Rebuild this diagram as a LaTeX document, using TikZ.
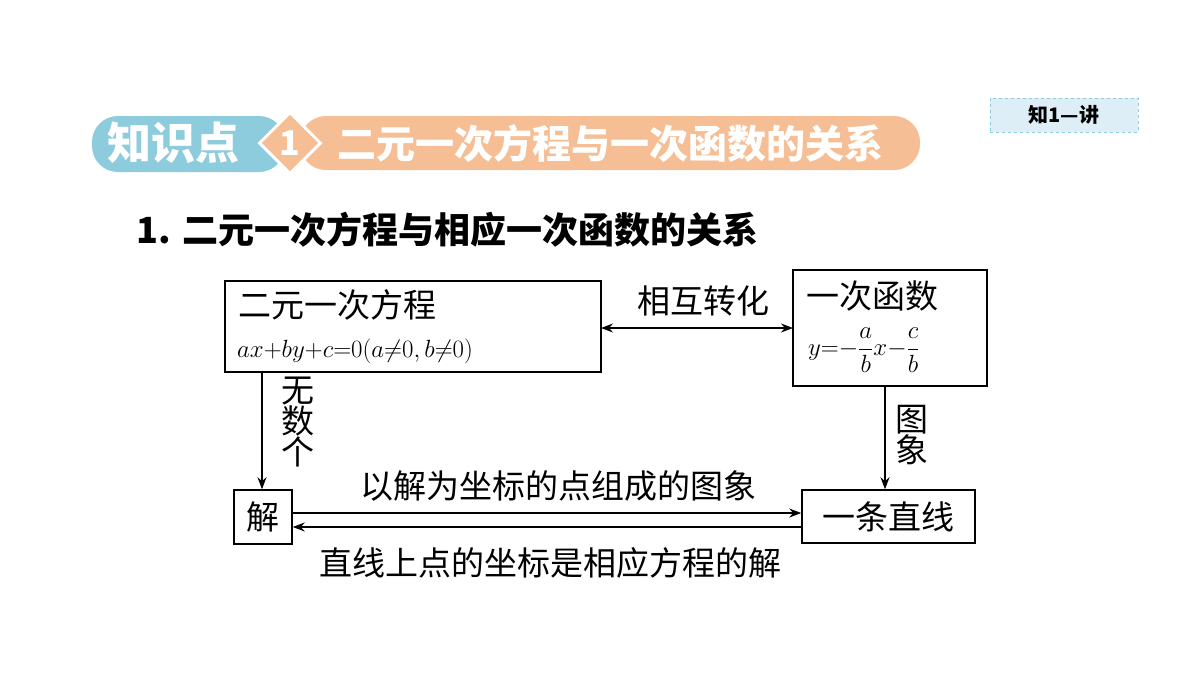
\documentclass[tikz,border=0pt]{standalone}
\usepackage{fontspec}
\newfontfamily\cjk{Noto Sans CJK SC}
\newcommand\cjkb{\cjk\bfseries}
\usetikzlibrary{arrows.meta,shapes.geometric}
\definecolor{hblue}{HTML}{8DCCDC}
\definecolor{horange}{HTML}{F6BE95}
\definecolor{tagfill}{HTML}{DDEEF6}
\tikzset{
  box/.style={draw,line width=1.5pt},
  arr/.style={-{Stealth[length=12pt,width=9pt]},line width=1.4pt},
  lbl/.style={font=\cjk\fontsize{33}{36}\selectfont,inner sep=0pt},
}
\begin{document}
\begin{tikzpicture}[x=1pt,y=-1pt]
\useasboundingbox (0,0) rectangle (1200,675);
% header
\fill[horange,rounded corners=26pt] (300,116) rectangle (920,170);
\fill[hblue,rounded corners=26pt] (92,116) rectangle (285,172);
\node[diamond,fill=horange,draw=white,line width=3pt,minimum width=62pt,minimum height=62pt,inner sep=0pt] (dia) at (290,143) {};
\node[font=\cjkb\fontsize{34}{36}\selectfont,white] (k1) at (290,143) {1};
\node[font=\cjkb\fontsize{44}{46}\selectfont,white,anchor=west] (kz) at (104,143) {知识点};
\node[font=\cjkb\fontsize{39}{42}\selectfont,white,anchor=west] (kt) at (334,144) {二元一次方程与一次函数的关系};
\node[draw=hblue,dashed,fill=tagfill,minimum width=148pt,minimum height=34pt,font=\cjkb\fontsize{20}{22}\selectfont] (tag) at (1064,115) {知1—讲};
% title
\node[anchor=west,font=\cjkb\fontsize{36}{40}\selectfont] (title) at (133,230) {1. 二元一次方程与相应一次函数的关系};
% boxes
\draw[box] (225,281) rectangle (601,372);
\coordinate (eqE) at (601,328); \coordinate (eqS) at (262,372);
\node[lbl,anchor=west] (eq1) at (238,305) {二元一次方程};
\node[anchor=west,inner sep=0pt,font=\fontsize{33}{36}\selectfont] (eq2) at (237,351) {$ax{+}by{+}c{=}0(a{\neq}0,b{\neq}0)$};
\draw[box] (793,270) rectangle (987,386);
\coordinate (fW) at (793,328); \coordinate (fS) at (885,386);
\node[lbl,anchor=west] (f1) at (806,296) {一次函数};
\node[anchor=west,inner sep=0pt,font=\fontsize{31}{34}\selectfont] (f2) at (808,350) {$\displaystyle y{=}{-}\frac{a}{b}x{-}\frac{c}{b}$};
\node[box,lbl,minimum width=58pt,minimum height=54pt] (jie) at (263,517) {解};
\node[box,lbl,minimum width=173pt,minimum height=53pt] (line) at (888.5,516.5) {一条直线};
% connectors
\draw[arr,{Stealth[length=12pt,width=9pt]}-{Stealth[length=12pt,width=9pt]}] (eqE) -- (fW);
\node[lbl] (t1) at (703,301) {相互转化};
\draw[arr] (eqS) -- (jie.north -| eqS);
\node[lbl,align=center,font=\cjk\fontsize{33}{31}\selectfont] (t2) at (298,422) {无\\数\\个};
\draw[arr] (fS) -- (line.north -| fS);
\node[lbl,align=center,font=\cjk\fontsize{33}{31}\selectfont] (t3) at (912,435) {图\\象};
\draw[arr] (jie.east |- 0,513) -- (line.west |- 0,513);
\draw[arr] (line.west |- 0,527) -- (jie.east |- 0,527);
\node[lbl] (t4) at (558,486) {以解为坐标的点组成的图象};
\node[lbl] (t5) at (550,563) {直线上点的坐标是相应方程的解};
\end{tikzpicture}
\end{document}
